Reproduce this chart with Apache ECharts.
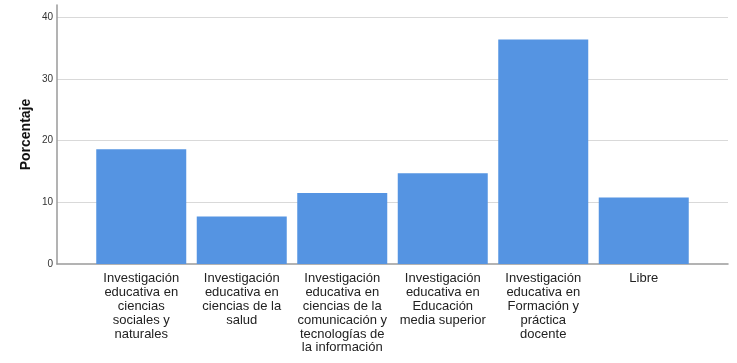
<!DOCTYPE html>
<html>
<head>
<meta charset="utf-8">
<script src="https://cdn.jsdelivr.net/npm/echarts@6/dist/echarts.min.js"></script>
<style>
html,body{margin:0;padding:0;background:#fff;}
#chart{width:737px;height:363px;}
</style>
</head>
<body>
<div id="chart"></div>
<script>
const categories = [
  'Investigación\neducativa en\nciencias\nsociales y\nnaturales',
  'Investigación\neducativa en\nciencias de la\nsalud',
  'Investigación\neducativa en\nciencias de la\ncomunicación y\ntecnologías de\nla información',
  'Investigación\neducativa en\nEducación\nmedia superior',
  'Investigación\neducativa en\nFormación y\npráctica\ndocente',
  'Libre'
];
const porcentaje = [18.6, 7.7, 11.5, 14.7, 36.4, 10.8];
const yTicks = [0, 10, 20, 30, 40];
const yMax = 42;

const chart = echarts.init(document.getElementById('chart'), null, {renderer: 'canvas'});
const font = 'Liberation Sans, Arial, sans-serif';
chart.setOption({
  animation: false,
  backgroundColor: '#ffffff',
  grid: [
    {left: 57, right: 9, top: 5, bottom: 99},
    {left: 91, right: 43, top: 5, bottom: 99}
  ],
  xAxis: [
    {
      gridIndex: 0, type: 'value', min: 0, max: 1,
      axisLine: {show: true, lineStyle: {color: '#9a9a9a', width: 1.5}},
      axisTick: {show: false}, axisLabel: {show: false}, splitLine: {show: false}
    },
    {
      gridIndex: 1, type: 'category', data: categories,
      axisLine: {show: false}, axisTick: {show: false},
      axisLabel: {
        interval: 0, margin: 8, color: '#222', fontFamily: font,
        fontSize: 13, lineHeight: 13.8, align: 'center'
      }
    }
  ],
  yAxis: [
    {
      gridIndex: 0, type: 'value', min: 0, max: yMax, interval: 10,
      name: 'Porcentaje', nameLocation: 'middle', nameGap: 24, nameMoveOverlap: false,
      nameTextStyle: {fontFamily: font, fontSize: 14, fontWeight: 'bold', color: '#111'},
      axisLine: {show: true, lineStyle: {color: '#9a9a9a', width: 1.5}},
      axisTick: {show: false},
      axisLabel: {
        margin: 4, color: '#333', fontFamily: font, fontSize: 10,
        formatter: v => (yTicks.indexOf(v) >= 0 ? String(v) : '')
      },
      splitLine: {show: true, showMinLine: false, showMaxLine: false, lineStyle: {color: '#d9d9d9', width: 1.2}}
    },
    {
      gridIndex: 1, type: 'value', min: 0, max: yMax, interval: 10,
      axisLine: {show: false}, axisTick: {show: false},
      axisLabel: {show: false}, splitLine: {show: false}
    }
  ],
  series: [{
    type: 'bar', xAxisIndex: 1, yAxisIndex: 1,
    data: porcentaje, barWidth: 90,
    itemStyle: {color: '#5594e2'}
  }]
});
</script>
</body>
</html>
